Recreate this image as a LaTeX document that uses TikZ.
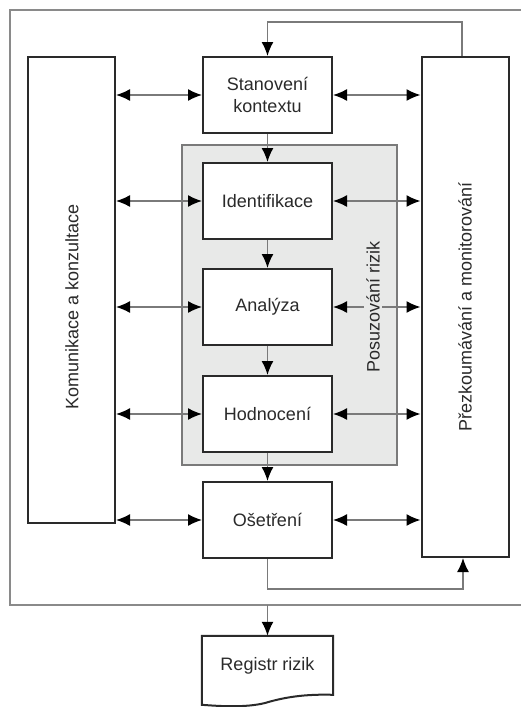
\documentclass[tikz,border=0pt]{standalone}
\usepackage{fontspec}
\setmainfont{Liberation Sans}
\usetikzlibrary{arrows.meta,calc}
\definecolor{regiongray}{HTML}{E8E9E8}
\definecolor{framegray}{HTML}{8A8A8A}
\definecolor{linkgray}{HTML}{7A7A7A}
\definecolor{inkgray}{HTML}{2A2A2A}

\begin{document}
\begin{tikzpicture}[x=1pt,y=-1pt,
    txt/.style={font=\fontsize{18}{22}\selectfont,text=inkgray},
    box/.style={txt,draw=inkgray,line width=2pt,fill=white,minimum width=129pt,
      minimum height=76pt,align=center,inner sep=0pt},
    side/.style={draw=inkgray,line width=2pt,fill=white,minimum width=87pt,inner sep=0pt},
    region/.style={draw=linkgray,line width=1.2pt,fill=regiongray,minimum width=215pt,
      minimum height=320pt},
    link/.style={{Latex[length=14pt,width=12pt,color=black]}-{Latex[length=14pt,width=12pt,color=black]},
      draw=linkgray,line width=1.5pt},
    flow/.style={-{Latex[length=14pt,width=12pt,color=black]},draw=linkgray,line width=1.5pt}]
    \useasboundingbox (0,0) rectangle (520,707);
    % outer frame
    \draw[framegray,line width=1.5pt] (521,10) -- (10,10) -- (10,605) -- (521,605);
    \coordinate (frameout) at (267.5,605);
    % assessment region
    \node[region] (posuz) at (289.5,305) {};
    % side boxes
    \node[side,minimum height=466pt] (kom) at (71.5,290) {};
    \node[txt,rotate=90] (komtext) at (72,307) {Komunikace a konzultace};
    \node[side,minimum height=500pt] (prez) at (465,307) {};
    \node[txt,rotate=90] (preztext) at (prez.center) {Přezkoumávání a monitorování};
    % process steps
    \node[box] (stan) at (267.5,95) {Stanovení\\kontextu};
    \node[box] (ident) at (267.5,201) {Identifikace};
    \node[box] (anal) at (267.5,307) {Analýza};
    \node[box] (hodn) at (267.5,414) {Hodnocení};
    \node[box] (oset) at (267.5,520) {Ošetření};
    % flow down
    \draw[flow] (stan) -- (ident);
    \draw[flow] (ident) -- (anal);
    \draw[flow] (anal) -- (hodn);
    \draw[flow] (hodn) -- (oset);
    % feedback loops
    \draw[flow] (prez.north) ++(-3,0) coordinate (loopa) -- ++(0,-34) -| (stan.north);
    \draw[flow] (oset.south) -- ++(0,30) -| ([xshift=-2pt]prez.south);
    % links to both sides
    \foreach \n in {stan,ident,anal,hodn,oset}{
      \draw[link] (kom.east |- \n.west) -- (\n.west);
      \draw[link] (\n.east) -- (prez.west |- \n.east);
    }
    \node[txt,rotate=90,fill=regiongray,inner sep=2pt] (posuztext) at (373,307) {Posuzování rizik};
    % register
    \node[txt,minimum width=131pt,minimum height=60pt,inner sep=0pt] (reg) at (267.5,666) {Registr rizik};
    \draw[inkgray,line width=2pt] (reg.north west) -- (reg.north east)
      -- ($(reg.north east)+(0,59)$) .. controls (305,694) and (285,697) .. (265,703)
      .. controls (245,708) and (218,706) .. ($(reg.north west)+(0,69)$) -- cycle;
    \draw[flow] (frameout) -- (reg.north);
\end{tikzpicture}
\end{document}
